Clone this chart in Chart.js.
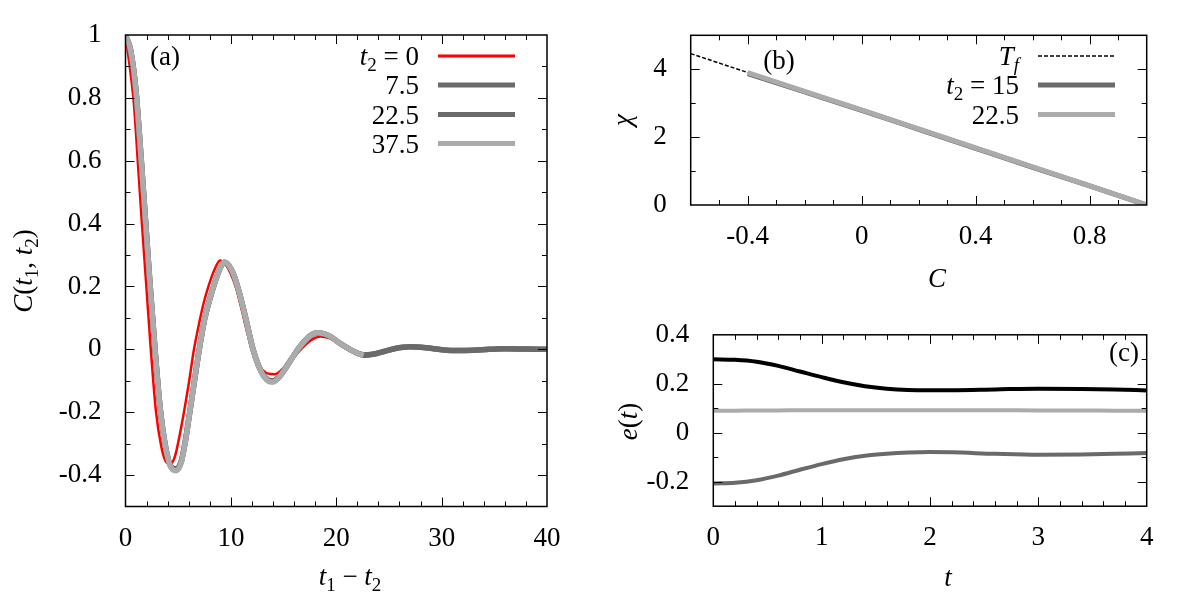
<!DOCTYPE html>
<html>
<head>
<meta charset="utf-8">
<script src="https://cdn.jsdelivr.net/npm/chart.js@4.4.0/dist/chart.umd.min.js"></script>
<style>
  body { margin: 0; background: #fff; width: 1200px; height: 600px; position: relative; overflow: hidden; }
  canvas { position: absolute; }
</style>
</head>
<body>
<canvas id="ca" width="600" height="600" style="left:0;top:0;width:600px;height:600px"></canvas>
<canvas id="cb" width="600" height="300" style="left:600px;top:0;width:600px;height:300px"></canvas>
<canvas id="cc" width="600" height="300" style="left:600px;top:300px;width:600px;height:300px"></canvas>
<script>
// (a) C(t1,t2) vs t1 - t2
const tRed = [0, 0.4, 0.8, 1.2, 1.6, 2, 2.4, 2.9, 3.4, 3.8, 4.25, 4.7, 5.1, 5.6, 6, 6.5, 7, 7.4, 7.87, 8.4, 8.97, 9.5, 10, 10.5, 11, 11.5, 12, 12.5, 13, 13.6, 14.2, 14.8, 15.5, 16, 16.6, 17.2, 17.8, 18.5, 19.4, 20.5, 21.5, 22.9, 24, 25.5, 27, 28.5, 30, 31.5, 33, 35, 37, 40];
const cRed = [1, 0.9, 0.78, 0.58, 0.38, 0.19, 0, -0.2, -0.31, -0.355, -0.365, -0.34, -0.28, -0.19, -0.11, 0, 0.085, 0.145, 0.2, 0.25, 0.283, 0.27, 0.24, 0.195, 0.13, 0.06, 0, -0.04, -0.065, -0.078, -0.079, -0.066, -0.042, -0.024, -0.002, 0.018, 0.033, 0.041, 0.035, 0.015, -0.002, -0.014, -0.01, 0.002, 0.007, 0.004, -0.001, -0.003, -0.002, 0.001, 0.001, 0];

const tGrey = [0, 0.5, 1, 1.5, 1.9, 2.3, 2.8, 3.3, 3.8, 4.3, 4.8, 5.3, 5.7, 6.1, 6.5, 7, 7.5, 8, 8.5, 9, 9.35, 9.8, 10.3, 10.8, 11.4, 12.1, 12.6, 13.1, 13.6, 14, 14.5, 15, 15.5, 16, 16.5, 17, 17.5, 18.15, 18.8, 19.4, 20.4, 21.3, 22, 22.6, 23.5, 24.5, 25.5, 27, 28.5, 30, 31.5, 33, 34.5, 36, 38, 40];
const cT7 = [1, 0.95, 0.82, 0.6, 0.41, 0.22, 0, -0.19, -0.31, -0.372, -0.38, -0.355, -0.287, -0.2, -0.11, 0, 0.095, 0.16, 0.215, 0.26, 0.276, 0.267, 0.235, 0.18, 0.1, 0, -0.05, -0.083, -0.098, -0.1, -0.09, -0.069, -0.043, -0.018, 0.006, 0.026, 0.042, 0.052, 0.049, 0.041, 0.018, 0, -0.012, -0.018, -0.015, -0.007, 0.002, 0.008, 0.005, -0.001, -0.004, -0.003, 0, 0.002, 0.001, 0];
const cT22 = [1, 0.95, 0.82, 0.6, 0.41, 0.22, 0, -0.19, -0.31, -0.373, -0.382, -0.356, -0.288, -0.2, -0.11, 0, 0.095, 0.16, 0.215, 0.26, 0.277, 0.267, 0.235, 0.18, 0.1, 0, -0.05, -0.084, -0.1, -0.102, -0.091, -0.07, -0.044, -0.018, 0.006, 0.026, 0.043, 0.053, 0.05, 0.042, 0.018, 0, -0.012, -0.019, -0.016, -0.007, 0.002, 0.008, 0.005, -0.001, -0.004, -0.003, 0, 0.002, 0.001, 0];
const cT37 = [1, 0.95, 0.82, 0.6, 0.41, 0.22, 0, -0.19, -0.31, -0.375, -0.386, -0.36, -0.29, -0.2, -0.11, 0, 0.095, 0.16, 0.215, 0.26, 0.278, 0.268, 0.235, 0.18, 0.1, 0, -0.05, -0.085, -0.102, -0.104, -0.092, -0.07, -0.044, -0.018, 0.006, 0.026, 0.043, 0.053, 0.05, 0.042, 0.018, 0, -0.012, -0.019];

// (b) chi vs C
const cTf = [-0.6, 1];
const chiTf = [4.46, 0];
const cB = [-0.4, -0.2, 0, 0.2, 0.4, 0.6, 0.8, 1];
const chi15 = [3.87, 3.33, 2.79, 2.23, 1.67, 1.11, 0.56, 0];
const chi22 = [3.9, 3.35, 2.8, 2.24, 1.68, 1.12, 0.56, 0];

// (c) e(t) vs t
const tE = [0, 0.2, 0.4, 0.6, 0.8, 1, 1.2, 1.4, 1.6, 1.8, 2, 2.2, 2.6, 3, 3.4, 3.7, 4];
const eTop = [0.3, 0.298, 0.29, 0.273, 0.25, 0.227, 0.206, 0.19, 0.18, 0.175, 0.174, 0.174, 0.177, 0.18, 0.179, 0.177, 0.173];
const eMid = [0.09, 0.09, 0.091, 0.091, 0.092, 0.092, 0.092, 0.092, 0.092, 0.092, 0.092, 0.092, 0.092, 0.091, 0.091, 0.09, 0.09];
const eLow = [-0.207, -0.204, -0.194, -0.175, -0.151, -0.128, -0.108, -0.094, -0.086, -0.081, -0.079, -0.08, -0.086, -0.09, -0.089, -0.086, -0.083];

// tick labels
const xTicksA = [0, 10, 20, 30, 40];
const yTicksA = [-0.4, -0.2, 0, 0.2, 0.4, 0.6, 0.8, 1];
const xTicksB = [-0.4, 0, 0.4, 0.8];
const yTicksB = [0, 2, 4];
const xTicksC = [0, 1, 2, 3, 4];
const yTicksC = [-0.2, 0, 0.2, 0.4];

const FAM = '"Liberation Serif", "DejaVu Serif", serif';
const DARK = '#6a6a6a', LIGHT = '#ababab';
Chart.defaults.font.family = FAM;
Chart.defaults.color = '#000';

const pts = (xs, ys) => ys.map((y, i) => ({ x: xs[i], y }));

function line(data, color, width, order, dash) {
  return { data, borderColor: color, borderWidth: width, order, showLine: true,
           pointRadius: 0, borderDash: dash || [], cubicInterpolationMode: 'monotone' };
}

// draws text made of runs: [text, style]; style has 'i' for italic, 's' for subscript
function runs(ctx, parts, x, y, align, rot) {
  const font = s => (s.includes('i') ? 'italic ' : '') + (s.includes('s') ? '19px ' : '27px ') + FAM;
  let w = 0;
  parts.forEach(([t, s]) => { ctx.font = font(s); w += ctx.measureText(t).width; });
  ctx.save();
  ctx.translate(x, y);
  if (rot) ctx.rotate(-Math.PI / 2);
  let cx = align === 'right' ? -w : align === 'center' ? -w / 2 : 0;
  ctx.fillStyle = '#000';
  ctx.textBaseline = 'alphabetic';
  parts.forEach(([t, s]) => {
    ctx.font = font(s);
    ctx.fillText(t, cx, s.includes('s') ? 6 : 0);
    cx += ctx.measureText(t).width;
  });
  ctx.restore();
}

function framePlugin(xStep, yStep) {
  return {
    id: 'frame',
    afterDraw(chart) {
      const { ctx, chartArea: a, scales: { x, y } } = chart;
      ctx.save();
      ctx.strokeStyle = '#000';
      ctx.lineWidth = 1;
      ctx.beginPath();
      const nx = Math.round((x.max - x.min) / xStep);
      for (let i = 1; i < nx; i++) {
        const v = x.min + i * xStep;
        const len = x.ticks.some(t => Math.abs(t.value - v) < 1e-6) ? 9 : 5;
        const px = Math.round(x.getPixelForValue(v)) + 0.5;
        ctx.moveTo(px, a.bottom); ctx.lineTo(px, a.bottom - len);
        ctx.moveTo(px, a.top); ctx.lineTo(px, a.top + len);
      }
      const ny = Math.round((y.max - y.min) / yStep);
      for (let i = 1; i < ny; i++) {
        const v = y.min + i * yStep;
        const len = y.ticks.some(t => Math.abs(t.value - v) < 1e-6) ? 9 : 5;
        const py = Math.round(y.getPixelForValue(v)) + 0.5;
        ctx.moveTo(a.left, py); ctx.lineTo(a.left + len, py);
        ctx.moveTo(a.right, py); ctx.lineTo(a.right - len, py);
      }
      ctx.stroke();
      ctx.lineWidth = 1.5;
      ctx.strokeRect(a.left, a.top, a.right - a.left, a.bottom - a.top);
      ctx.restore();
    }
  };
}

function textPlugin(draw) {
  return { id: 'texts', afterDraw(chart) { draw(chart.ctx); } };
}

function legendRow(ctx, parts, y, x0, x1, color, width, dash) {
  runs(ctx, parts, x0 - 19, y + 9, 'right');
  ctx.save();
  ctx.strokeStyle = color;
  ctx.lineWidth = width;
  ctx.setLineDash(dash || []);
  ctx.beginPath();
  ctx.moveTo(x0, y); ctx.lineTo(x1, y);
  ctx.stroke();
  ctx.restore();
}

function panel(id, area, datasets, xr, yr, steps, draw) {
  const cv = document.getElementById(id);
  const tickFont = { size: 27, family: FAM };
  return new Chart(cv, {
    type: 'scatter',
    data: { datasets },
    options: {
      responsive: false,
      animation: false,
      layout: { autoPadding: false, padding: { left: 0, top: area.top, right: cv.width - area.right, bottom: 0 } },
      plugins: { legend: { display: false }, tooltip: { enabled: false } },
      scales: {
        x: {
          type: 'linear', min: xr.min, max: xr.max,
          grid: { display: false }, border: { display: false },
          afterBuildTicks: s => { s.ticks = xr.ticks.map(v => ({ value: v })); },
          afterFit: s => { s.height = cv.height - area.bottom; },
          ticks: { font: tickFont, padding: 8, maxRotation: 0, autoSkip: false, callback: v => String(v) }
        },
        y: {
          type: 'linear', min: yr.min, max: yr.max,
          grid: { display: false }, border: { display: false },
          afterBuildTicks: s => { s.ticks = yr.ticks.map(v => ({ value: v })); },
          afterFit: s => { s.width = area.left; },
          ticks: { font: tickFont, padding: 16, autoSkip: false, callback: v => String(v) }
        }
      }
    },
    plugins: [framePlugin(steps[0], steps[1]), textPlugin(draw)]
  });
}

// panel (a)
panel('ca', { left: 125.5, right: 547, top: 35, bottom: 506.5 }, [
  line(pts(tRed, cRed), '#ff0000', 2.5, 4),
  line(pts(tGrey, cT7), DARK, 5.5, 3),
  line(pts(tGrey, cT22), DARK, 5.5, 2),
  line(pts(tGrey, cT37), LIGHT, 5.5, 1)
], { min: 0, max: 40, ticks: xTicksA }, { min: -0.5, max: 1, ticks: yTicksA }, [2, 0.1], ctx => {
  runs(ctx, [['(a)', 'r']], 165, 65, 'center');
  legendRow(ctx, [['t', 'i'], ['2', 's'], [' = 0', 'r']], 56, 438, 515, '#ff0000', 3);
  legendRow(ctx, [['7.5', 'r']], 85, 438, 515, DARK, 5);
  legendRow(ctx, [['22.5', 'r']], 114.5, 438, 515, DARK, 5);
  legendRow(ctx, [['37.5', 'r']], 143.5, 438, 515, LIGHT, 5);
  runs(ctx, [['t', 'i'], ['1', 's'], [' \u2212 ', 'r'], ['t', 'i'], ['2', 's']], 350, 585, 'center');
  runs(ctx, [['C', 'i'], ['(', 'r'], ['t', 'i'], ['1', 's'], [', ', 'r'], ['t', 'i'], ['2', 's'], [')', 'r']], 32, 271, 'center', true);
});

// panel (b)
panel('cb', { left: 90.7, right: 546.7, top: 35.3, bottom: 205 }, [
  line(pts(cTf, chiTf), '#000', 1.5, 3, [4, 2]),
  line(pts(cB, chi15), DARK, 5, 2),
  line(pts(cB, chi22), LIGHT, 5, 1)
], { min: -0.6, max: 1, ticks: xTicksB }, { min: 0, max: 5, ticks: yTicksB }, [0.1, 1], ctx => {
  runs(ctx, [['(b)', 'r']], 179, 69, 'center');
  legendRow(ctx, [['T', 'i'], ['f', 'is']], 56, 438, 515, '#000', 1.5, [4, 2]);
  legendRow(ctx, [['t', 'i'], ['2', 's'], [' = 15', 'r']], 85, 438, 515, DARK, 5);
  legendRow(ctx, [['22.5', 'r']], 114.5, 438, 515, LIGHT, 5);
  runs(ctx, [['C', 'i']], 337, 287, 'center');
  runs(ctx, [['\u03c7', 'i']], 31, 120, 'center', true);
});

// panel (c)
panel('cc', { left: 113.3, right: 546.7, top: 34.8, bottom: 206.2 }, [
  line(pts(tE, eTop), '#000', 4, 1),
  line(pts(tE, eMid), LIGHT, 4, 2),
  line(pts(tE, eLow), DARK, 4, 3)
], { min: 0, max: 4, ticks: xTicksC }, { min: -0.3, max: 0.4, ticks: yTicksC }, [0.2, 0.1], ctx => {
  runs(ctx, [['(c)', 'r']], 524, 61, 'center');
  runs(ctx, [['t', 'i']], 348, 286, 'center');
  runs(ctx, [['e', 'i'], ['(', 'r'], ['t', 'i'], [')', 'r']], 37, 121.5, 'center', true);
});
</script>
</body>
</html>
